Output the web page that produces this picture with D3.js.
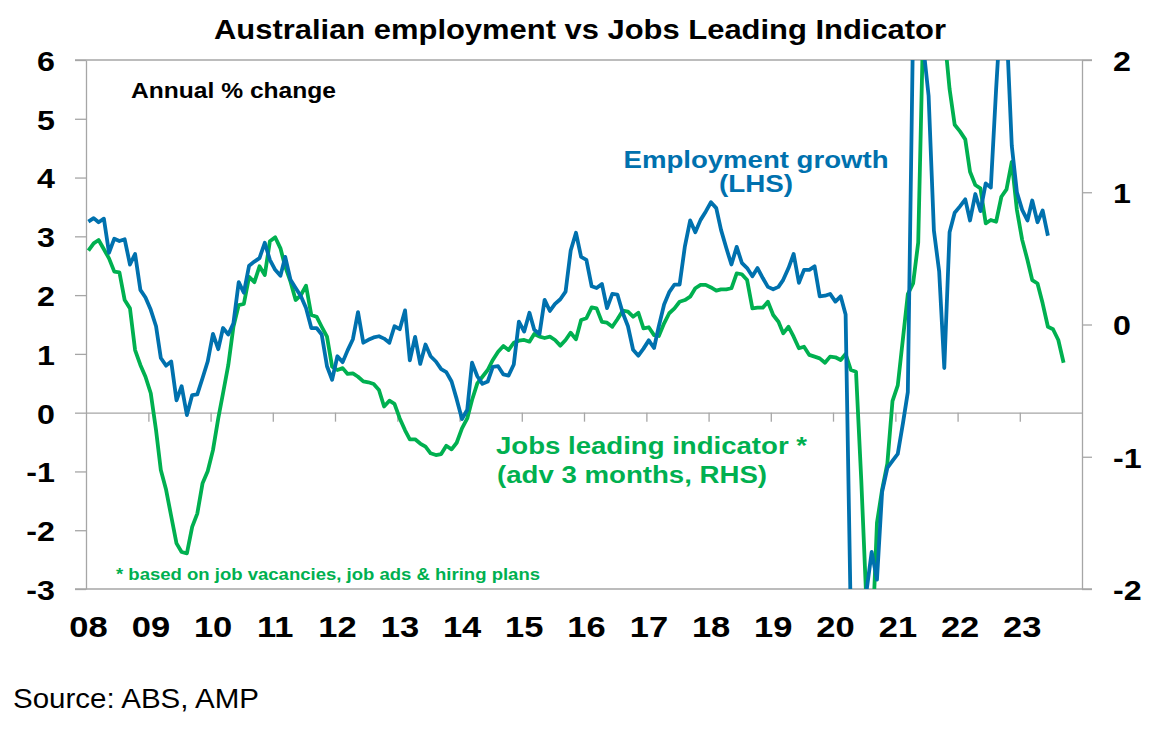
<!DOCTYPE html>
<html><head><meta charset="utf-8">
<script src="https://cdn.jsdelivr.net/npm/d3@7"></script>
<style>
html,body{margin:0;padding:0;background:#fff;}
svg{display:block;font-family:"Liberation Sans",Arial,Helvetica,sans-serif;}
</style></head><body>
<svg id="chart" width="1166" height="735"></svg>
<script>
// Employment growth, annual % change (LHS), monthly from Jan 2008
const employment = [
  3.25, 3.31, 3.24, 3.30, 2.72, 2.96, 2.92, 2.95, 2.52, 2.70, 2.09, 1.96,
  1.75, 1.47, 0.93, 0.80, 0.87, 0.21, 0.45, -0.04, 0.30, 0.31, 0.59, 0.87,
  1.34, 1.08, 1.44, 1.33, 1.52, 2.22, 2.04, 2.50, 2.57, 2.63, 2.89, 2.60,
  2.43, 2.33, 2.65, 2.26, 2.12, 1.98, 1.78, 1.44, 1.44, 1.33, 0.79, 0.56,
  0.96, 0.86, 1.06, 1.25, 1.71, 1.19, 1.24, 1.28, 1.30, 1.26, 1.19, 1.47,
  1.42, 1.74, 0.89, 1.29, 0.83, 1.16, 0.96, 0.87, 0.74, 0.69, 0.53, 0.23,
  -0.11, 0.05, 0.85, 0.62, 0.49, 0.53, 0.78, 0.79, 0.65, 0.63, 0.82, 1.55,
  1.38, 1.70, 1.41, 1.34, 1.92, 1.73, 1.85, 1.93, 2.06, 2.76, 3.06, 2.65,
  2.60, 2.15, 2.12, 2.19, 1.78, 2.02, 2.01, 1.70, 1.47, 1.07, 0.97, 1.09,
  1.23, 1.10, 1.47, 1.84, 2.05, 2.18, 2.18, 2.83, 3.27, 3.07, 3.28, 3.42,
  3.58, 3.48, 3.11, 2.80, 2.52, 2.82, 2.55, 2.46, 2.32, 2.46, 2.29, 2.14,
  2.10, 2.14, 2.26, 2.46, 2.70, 2.21, 2.43, 2.43, 2.49, 1.98, 1.99, 2.02,
  1.89, 1.98, 1.67, -3.6, -5.0, -4.2, -3.05, -2.37, -2.84, -1.35, -0.94, -0.82,
  -0.70, -0.17, 0.35, 6.6, 8.0, 6.2, 5.39, 3.10, 2.40, 0.76, 3.07, 3.40,
  3.51, 3.63, 3.27, 3.72, 3.43, 3.90, 3.83, 5.5, 7.0, 6.6, 4.54, 3.75,
  3.45, 3.27, 3.61, 3.24, 3.44, 3.01
];
// Jobs leading indicator, advanced 3 months (RHS), monthly from Jan 2008
const jobsIndicator = [
  0.558, 0.614, 0.639, 0.569, 0.50, 0.40, 0.395, 0.185, 0.122, -0.193, -0.306, -0.395,
  -0.52, -0.80, -1.10, -1.25, -1.45, -1.655, -1.72, -1.73, -1.53, -1.43, -1.20, -1.11,
  -0.95, -0.71, -0.52, -0.306, -0.017, 0.147, 0.155, 0.36, 0.32, 0.44, 0.374, 0.63,
  0.66, 0.576, 0.437, 0.324, 0.185, 0.223, 0.293, 0.072, 0.059, -0.017, -0.092, -0.319,
  -0.344, -0.33, -0.374, -0.37, -0.395, -0.43, -0.437, -0.45, -0.495, -0.62, -0.576, -0.60,
  -0.71, -0.80, -0.868, -0.868, -0.90, -0.924, -0.974, -0.987, -0.98, -0.917, -0.944, -0.894,
  -0.785, -0.71, -0.571, -0.445, -0.395, -0.344, -0.268, -0.206, -0.163, -0.193, -0.138, -0.122,
  -0.117, -0.13, -0.072, -0.092, -0.102, -0.092, -0.117, -0.16, -0.117, -0.062, -0.112, 0.034,
  0.047, 0.13, 0.122, 0.02, 0.014, -0.017, 0.04, 0.104, 0.097, 0.059, 0.089, -0.029,
  -0.021, -0.08, -0.087, 0.009, 0.085, 0.122, 0.172, 0.185, 0.21, 0.274, 0.30, 0.30,
  0.28, 0.256, 0.266, 0.266, 0.274, 0.387, 0.38, 0.336, 0.122, 0.127, 0.127, 0.172,
  0.072, 0.021, -0.067, -0.017, -0.092, -0.18, -0.168, -0.23, -0.243, -0.256, -0.289, -0.243,
  -0.248, -0.268, -0.223, -0.344, -0.357, -1.18, -2.1, -2.5, -1.5, -1.25, -1.05, -0.58,
  -0.46, -0.10, 0.23, 0.31, 0.62, 2.37, 2.8, 3.0, 2.6, 2.2, 1.78, 1.51,
  1.46, 1.40, 1.155, 1.055, 1.03, 0.765, 0.79, 0.777, 0.966, 1.022, 1.23, 0.866,
  0.64, 0.488, 0.336, 0.31, 0.16, -0.017, -0.036, -0.117, -0.289
];
const leftTicks = [-3, -2, -1, 0, 1, 2, 3, 4, 5, 6];
const rightTicks = [-2, -1, 0, 1, 2];
const yearLabels = ["08","09","10","11","12","13","14","15","16","17","18","19","20","21","22","23"];

const BLUE = "#0071AE", GREEN = "#00B050", GREY = "#A6A6A6";
const FONT_STRETCH = 1.15;

const svg = d3.select("#chart");
const L = 86, R = 1082, T = 60, B = 589;

const x = d3.scaleTime().domain([new Date(2008, 0, 1), new Date(2024, 0, 1)]).range([L, R]);
const yL = d3.scaleLinear().domain([-3, 6]).range([B, T]);
const yR = d3.scaleLinear().domain([-2, 2]).range([B, T]);

const monthDate = i => new Date(2008, i, 15);
const empData = employment.map((v, i) => ({d: monthDate(i), v}));
const jliData = jobsIndicator.map((v, i) => ({d: monthDate(i), v}));

const fmt = d => String(d); // plain hyphen for negatives

function stretch(sel, f) {
  sel.each(function() {
    const w = this.getComputedTextLength();
    d3.select(this).attr("textLength", w * f).attr("lengthAdjust", "spacingAndGlyphs");
  });
}

// plot border (top/bottom)
svg.append("line").attr("x1", L - 11).attr("x2", R + 10).attr("y1", T).attr("y2", T)
  .attr("stroke", GREY).attr("stroke-width", 1.3);
svg.append("line").attr("x1", L - 11).attr("x2", R + 10).attr("y1", B).attr("y2", B)
  .attr("stroke", GREY).attr("stroke-width", 1.3);

// left axis
const gL = svg.append("g").attr("transform", `translate(${L},0)`)
  .call(d3.axisLeft(yL).tickValues(leftTicks).tickSize(11).tickSizeOuter(0).tickPadding(20).tickFormat(fmt));
gL.select(".domain").attr("stroke", GREY).attr("stroke-width", 1.3);
gL.selectAll(".tick line").attr("stroke", GREY).attr("stroke-width", 1.3);
gL.selectAll(".tick text").attr("font-size", 28).attr("font-weight", "bold").attr("fill", "#000")
  .attr("dy", "0.37em").attr("font-family", null).call(stretch, FONT_STRETCH);

// right axis
const gR = svg.append("g").attr("transform", `translate(${R},0)`)
  .call(d3.axisRight(yR).tickValues(rightTicks).tickSize(10).tickSizeOuter(0).tickPadding(21).tickFormat(fmt));
gR.select(".domain").attr("stroke", GREY).attr("stroke-width", 1.3);
gR.selectAll(".tick line").attr("stroke", GREY).attr("stroke-width", 1.3);
gR.selectAll(".tick text").attr("font-size", 28).attr("font-weight", "bold").attr("fill", "#000")
  .attr("dy", "0.37em").attr("font-family", null).call(stretch, FONT_STRETCH);

// x axis at zero line
const yearDates = yearLabels.map(s => new Date(2000 + +s, 0, 1));
const gX = svg.append("g").attr("transform", `translate(0,${yL(0)})`)
  .call(d3.axisBottom(x).tickValues(yearDates.slice(1)).tickSize(9).tickSizeOuter(0).tickFormat(""));
gX.select(".domain").attr("stroke", GREY).attr("stroke-width", 1.3);
gX.selectAll(".tick line").attr("stroke", GREY).attr("stroke-width", 1.3);

// x labels
const gXL = svg.append("g").attr("transform", `translate(2,637)`)
  .call(d3.axisBottom(x).tickValues(yearDates).tickSize(0).tickPadding(0)
    .tickFormat((d, i) => yearLabels[i]));
gXL.select(".domain").remove();
gXL.selectAll(".tick text").attr("y", 0).attr("dy", 0).attr("font-size", 30).attr("font-weight", "bold")
  .attr("fill", "#000").attr("font-family", null).call(stretch, FONT_STRETCH);

// clip
svg.append("clipPath").attr("id", "plotclip").append("rect")
  .attr("x", L).attr("y", T).attr("width", R - L).attr("height", B - T);

const lineL = d3.line().x(d => x(d.d)).y(d => yL(d.v));
const lineR = d3.line().x(d => x(d.d)).y(d => yR(d.v));

const plot = svg.append("g").attr("clip-path", "url(#plotclip)");
plot.append("path").datum(jliData).attr("d", lineR).attr("fill", "none")
  .attr("stroke", GREEN).attr("stroke-width", 3.8).attr("stroke-linejoin", "round");
plot.append("path").datum(empData).attr("d", lineL).attr("fill", "none")
  .attr("stroke", BLUE).attr("stroke-width", 3.8).attr("stroke-linejoin", "round");

function addText(px, py, str, size, weight, color, anchor, width) {
  const t = svg.append("text").attr("x", px).attr("y", py).text(str)
    .attr("font-size", size).attr("font-weight", weight).attr("fill", color)
    .attr("text-anchor", anchor);
  if (width) t.attr("textLength", width).attr("lengthAdjust", "spacingAndGlyphs");
  return t;
}

addText(580, 39, "Australian employment vs Jobs Leading Indicator", 27, "bold", "#000", "middle", 732);
addText(131, 98, "Annual % change", 22, "bold", "#000", "start", 205);
addText(756, 168, "Employment growth", 23, "bold", BLUE, "middle", 265);
addText(756, 192, "(LHS)", 23, "bold", BLUE, "middle", 74);
addText(496, 454, "Jobs leading indicator *", 23, "bold", GREEN, "start", 311);
addText(497, 483, "(adv 3 months, RHS)", 23, "bold", GREEN, "start", 270);
addText(116, 580, "* based on job vacancies, job ads & hiring plans", 16, "bold", GREEN, "start", 424);
addText(13, 708, "Source: ABS, AMP", 28, "normal", "#000", "start", 246);
</script>
</body></html>
